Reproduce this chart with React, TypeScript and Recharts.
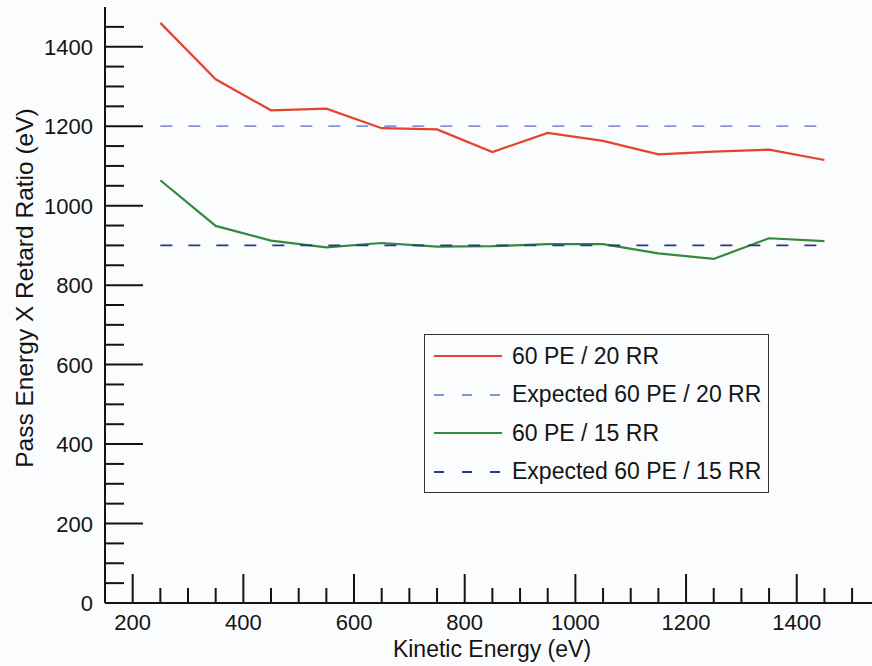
import { LineChart, Line, XAxis, YAxis, Legend, Label } from 'recharts';

const kineticEnergy = [250, 350, 450, 550, 650, 750, 850, 950, 1050, 1150, 1250, 1350, 1450];
const pe60rr20 = [1460, 1318, 1240, 1244, 1195, 1192, 1135, 1183, 1163, 1129, 1136, 1141, 1115];
const expected60rr20 = [1200, 1200, 1200, 1200, 1200, 1200, 1200, 1200, 1200, 1200, 1200, 1200, 1200];
const pe60rr15 = [1064, 949, 912, 895, 906, 897, 898, 903, 903, 880, 866, 918, 911];
const expected60rr15 = [900, 900, 900, 900, 900, 900, 900, 900, 900, 900, 900, 900, 900];

const xTicks = [200, 250, 300, 350, 400, 450, 500, 550, 600, 650, 700, 750, 800, 850, 900, 950, 1000, 1050, 1100, 1150, 1200, 1250, 1300, 1350, 1400, 1450, 1500];
const yTicks = [0, 50, 100, 150, 200, 250, 300, 350, 400, 450, 500, 550, 600, 650, 700, 750, 800, 850, 900, 950, 1000, 1050, 1100, 1150, 1200, 1250, 1300, 1350, 1400, 1450];

const data = kineticEnergy.map((ke, i) => ({
  ke,
  a: pe60rr20[i],
  b: expected60rr20[i],
  c: pe60rr15[i],
  d: expected60rr15[i],
}));

const series = [
  { key: 'a', name: '60 PE / 20 RR', color: '#e4432d', dash: undefined },
  { key: 'b', name: 'Expected 60 PE / 20 RR', color: '#8891d6', dash: '12 16' },
  { key: 'c', name: '60 PE / 15 RR', color: '#348a3c', dash: undefined },
  { key: 'd', name: 'Expected 60 PE / 15 RR', color: '#28378c', dash: '12 16' },
];

const FONT = '"Liberation Sans", Arial, Helvetica, sans-serif';
const INK = '#141414';

const XTick = (props: any) => {
  const { x, y, payload } = props;
  const major = payload.value % 200 === 0;
  return (
    <g>
      <line x1={x} x2={x} y1={y} y2={y - (major ? 29 : 15)} stroke={INK} strokeWidth={2} />
      {major && (
        <text x={x} y={y + 27} textAnchor="middle" fontSize={22} fontFamily={FONT} fill={INK}>
          {payload.value}
        </text>
      )}
    </g>
  );
};

const YTick = (props: any) => {
  const { x, y, payload } = props;
  const major = payload.value % 200 === 0;
  return (
    <g>
      {payload.value !== 0 && (
        <line x1={x} x2={x + (major ? 38 : 19)} y1={y} y2={y} stroke={INK} strokeWidth={2} />
      )}
      {major && (
        <text x={x - 12} y={y + 8} textAnchor="end" fontSize={22} fontFamily={FONT} fill={INK}>
          {payload.value}
        </text>
      )}
    </g>
  );
};

const LegendBox = () => (
  <div
    style={{
      position: 'relative',
      width: 343,
      height: 157,
      border: '1.5px solid #333',
      boxSizing: 'content-box',
      fontFamily: FONT,
      fontSize: 23,
      color: INK,
    }}
  >
    {series.map((s, i) => (
      <div key={s.key} style={{ position: 'absolute', left: 9, top: 8 + i * 38.5, height: 26, display: 'flex', alignItems: 'center' }}>
        <svg width={68} height={10} style={{ display: 'block' }}>
          <line x1={0} x2={68} y1={5} y2={5} stroke={s.color} strokeWidth={2} strokeDasharray={s.dash ? '10 18' : undefined} />
        </svg>
        <span style={{ marginLeft: 10, whiteSpace: 'nowrap' }}>{s.name}</span>
      </div>
    ))}
  </div>
);

export default function App() {
  return (
    <div style={{ position: 'absolute', left: 0, top: 0, width: 872, height: 666, background: '#fbfcfd' }}>
      <LineChart width={872} height={666} data={data} margin={{ top: 7, right: 0, bottom: 0, left: 0 }}>
        <XAxis
          dataKey="ke"
          type="number"
          domain={[150, 1536]}
          ticks={xTicks}
          interval={0}
          height={63}
          tickSize={0}
          tickMargin={0}
          tickLine={false}
          tick={<XTick />}
          axisLine={{ stroke: INK, strokeWidth: 2 }}
          allowDataOverflow
        >
          <Label
            content={() => (
              <text x={492} y={657} textAnchor="middle" fontSize={23} fontFamily={FONT} fill={INK}>
                Kinetic Energy (eV)
              </text>
            )}
          />
        </XAxis>
        <YAxis
          type="number"
          domain={[0, 1500]}
          ticks={yTicks}
          interval={0}
          width={105}
          tickSize={0}
          tickMargin={0}
          tickLine={false}
          tick={<YTick />}
          axisLine={{ stroke: INK, strokeWidth: 2 }}
          allowDataOverflow
        >
          <Label
            content={() => (
              <text
                x={33}
                y={288}
                transform="rotate(-90 33 288)"
                textAnchor="middle"
                fontSize={24.5}
                fontFamily={FONT}
                fill={INK}
              >
                Pass Energy X Retard Ratio (eV)
              </text>
            )}
          />
        </YAxis>
        <Legend
          layout="vertical"
          align="center"
          verticalAlign="middle"
          content={<LegendBox />}
          wrapperStyle={{ position: 'absolute', left: 424, top: 334, width: 'auto', height: 'auto' }}
        />
        {series.map((s) => (
          <Line
            key={s.key}
            dataKey={s.key}
            name={s.name}
            stroke={s.color}
            strokeWidth={s.dash ? 1.8 : 2.2}
            strokeDasharray={s.dash}
            dot={false}
            activeDot={false}
            isAnimationActive={false}
          />
        ))}
      </LineChart>
    </div>
  );
}
